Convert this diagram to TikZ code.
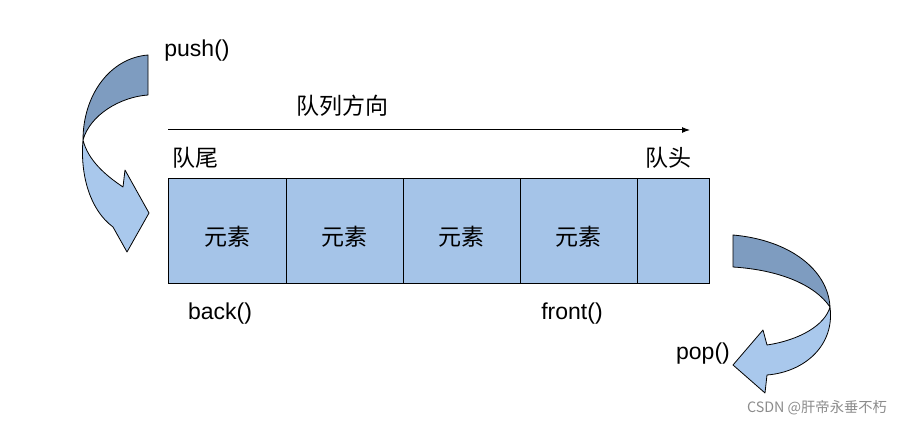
\documentclass[tikz,border=0pt]{standalone}
\usepackage{fontspec}
\setmainfont{Liberation Sans}
\newfontfamily\cjk{Noto Sans CJK SC}
\usetikzlibrary{arrows.meta,positioning}
\definecolor{cellblue}{RGB}{165,196,232}
\definecolor{ribbondark}{RGB}{126,156,192}
\definecolor{ribbonlight}{RGB}{169,200,236}
\tikzset{
  cell/.style={draw, fill=cellblue, line width=0.9pt, minimum height=105pt,
    inner sep=0pt, outer sep=0pt, text height=33pt, text depth=3pt,
    font=\cjk\fontsize{23}{27}\selectfont},
  lbl/.style={font=\fontsize{23}{27}\selectfont},
  cjklbl/.style={font=\cjk\fontsize{23}{27}\selectfont},
  ribbon/.style={draw, line width=0.8pt, line join=round}
}

\begin{document}
\begin{tikzpicture}[x=1pt, y=-1pt]
        \useasboundingbox (0,0) rectangle (900,427);
        % the queue cells
        \node[cell, minimum width=118pt, anchor=north west] (c1) at (168,178) {元素};
        \node[cell, minimum width=117pt, anchor=north west] (c2) at (c1.north east) {元素};
        \node[cell, minimum width=117pt, anchor=north west] (c3) at (c2.north east) {元素};
        \node[cell, minimum width=117pt, anchor=north west] (c4) at (c3.north east) {元素};
        \node[cell, minimum width=72pt, anchor=north west] (c5) at (c4.north east) {};
        % direction
        \coordinate (dirstart) at (168,130);
        \coordinate (dirend) at (690,130);
        \draw[-{Latex[length=8pt,width=6pt]}, line width=1pt] (dirstart) -- (dirend);
        \node[cjklbl] (dirlbl) at (342,106) {队列方向};
        \node[cjklbl] (tail) at (195,158) {队尾};
        \node[cjklbl] (head) at (668,158) {队头};
        \node[lbl] (back) at (220,314) {back()};
        \node[lbl] (front) at (572,314) {front()};
        \node[lbl] (push) at (197,51) {push()};
        \node[lbl] (pop) at (703,354) {pop()};
        % push ribbon
        \filldraw[ribbon, fill=ribbondark] (148,55) -- (148,95)
            .. controls (120,97) and (90,115) .. (83,140)
            .. controls (83,95) and (110,58) .. (148,55) -- cycle;
        \filldraw[ribbon, fill=ribbonlight] (83,140)
            .. controls (88,160) and (105,175) .. (123,187)
            -- (125,170) -- (149,213) -- (127,252) -- (113,227)
            .. controls (90,210) and (80,175) .. (83,140) -- cycle;
        % pop ribbon
        \filldraw[ribbon, fill=ribbondark] (733,235) -- (733,267)
            .. controls (780,270) and (815,285) .. (830,307)
            .. controls (828,270) and (790,240) .. (733,235) -- cycle;
        \filldraw[ribbon, fill=ribbonlight] (830,307)
            .. controls (825,325) and (800,340) .. (767,345)
            -- (763,330) -- (733,365) -- (765,393) -- (767,375)
            .. controls (805,372) and (835,345) .. (830,307) -- cycle;
        % watermark
        \node[text=black!45, font=\cjk\fontsize{14.3}{18}\selectfont] (mark) at (817,408) {CSDN @肝帝永垂不朽};
\end{tikzpicture}
\end{document}
